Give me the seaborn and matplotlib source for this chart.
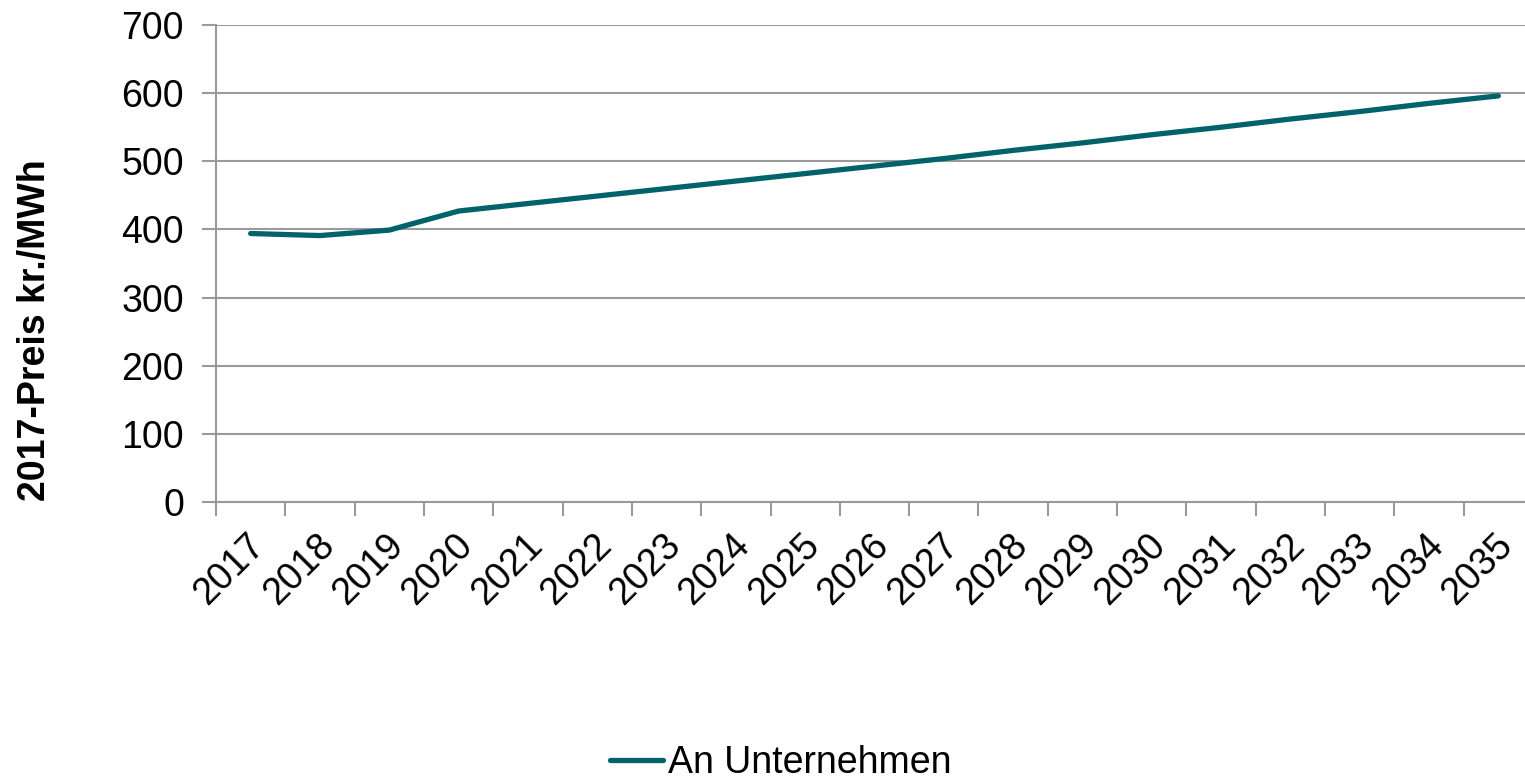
import matplotlib
matplotlib.use("Agg")
import matplotlib.pyplot as plt
import matplotlib.transforms as mtransforms
from matplotlib.ticker import FixedLocator, MultipleLocator
import seaborn as sns
import pandas as pd

# Electricity price to companies, real 2017 prices
years = [str(y) for y in range(2017, 2036)]
prices = [394, 391, 399, 427, 438, 449, 460, 471, 482, 493, 504,
          516, 527, 539, 550, 562, 573, 585, 596]
series_name = "An Unternehmen"
y_label = "2017-Preis kr./MWh"

sns.set_theme(style="white")
plt.rcParams["font.family"] = ["Liberation Sans", "DejaVu Sans"]
plt.rcParams["text.color"] = "black"
plt.rcParams["axes.labelcolor"] = "black"
plt.rcParams["xtick.labelcolor"] = "black"
plt.rcParams["ytick.labelcolor"] = "black"

df = pd.DataFrame({"Jahr": years, "Preis": prices, "Serie": series_name})

fig = plt.figure(figsize=(15.25, 7.79), dpi=100)
ax_w = 1533 - 216
ax = fig.add_axes([216 / 1525, 1 - 502 / 779, ax_w / 1525, (502 - 25) / 779])

line_color = "#00636A"
sns.lineplot(data=df, x="Jahr", y="Preis", hue="Serie", palette=[line_color],
             linewidth=3.8, ax=ax, legend=False, sort=False)

n = len(years)
ax.set_xlim(-0.5, n - 0.5)
ax.set_ylim(0, 700)
ax.yaxis.set_major_locator(MultipleLocator(100))

grid_color = "#9A9A9A"
ax.grid(axis="y", color=grid_color, linewidth=1.5)
ax.set_axisbelow(True)
for side in ("top", "right"):
    ax.spines[side].set_visible(False)
for side in ("left", "bottom"):
    ax.spines[side].set_color(grid_color)
    ax.spines[side].set_linewidth(1.5)

fs = 27

# category labels at centers, tick marks at category boundaries
ax.set_xticks(range(n))
ax.set_xticklabels(years, rotation=45, ha="right", rotation_mode="anchor", fontsize=fs)
ax.tick_params(axis="x", which="major", length=0, pad=18)
ax.xaxis.set_minor_locator(FixedLocator([i - 0.5 for i in range(n + 1)]))
ax.tick_params(axis="x", which="minor", length=10, width=1.5, color=grid_color,
               direction="out", bottom=True)
offset = mtransforms.ScaledTranslation(-4 / 100, 0, fig.dpi_scale_trans)
for lbl in ax.get_xticklabels():
    lbl.set_transform(lbl.get_transform() + offset)

ax.tick_params(axis="y", which="major", length=10, width=1.5, color=grid_color,
               direction="out", left=True, labelsize=fs, pad=13)

ax.set_xlabel("")
ax.set_ylabel(y_label, fontsize=fs, fontweight="bold")
ax.yaxis.set_label_coords(-163 / ax_w, 0.36)

handle = plt.Line2D([], [], color=line_color, linewidth=3.8)
fig.legend([handle], [series_name], loc="lower center",
           bbox_to_anchor=(781 / 1525, -0.046), frameon=False, fontsize=fs,
           handlelength=1.4, handletextpad=0.15)

fig.savefig("out.png", dpi=100)
